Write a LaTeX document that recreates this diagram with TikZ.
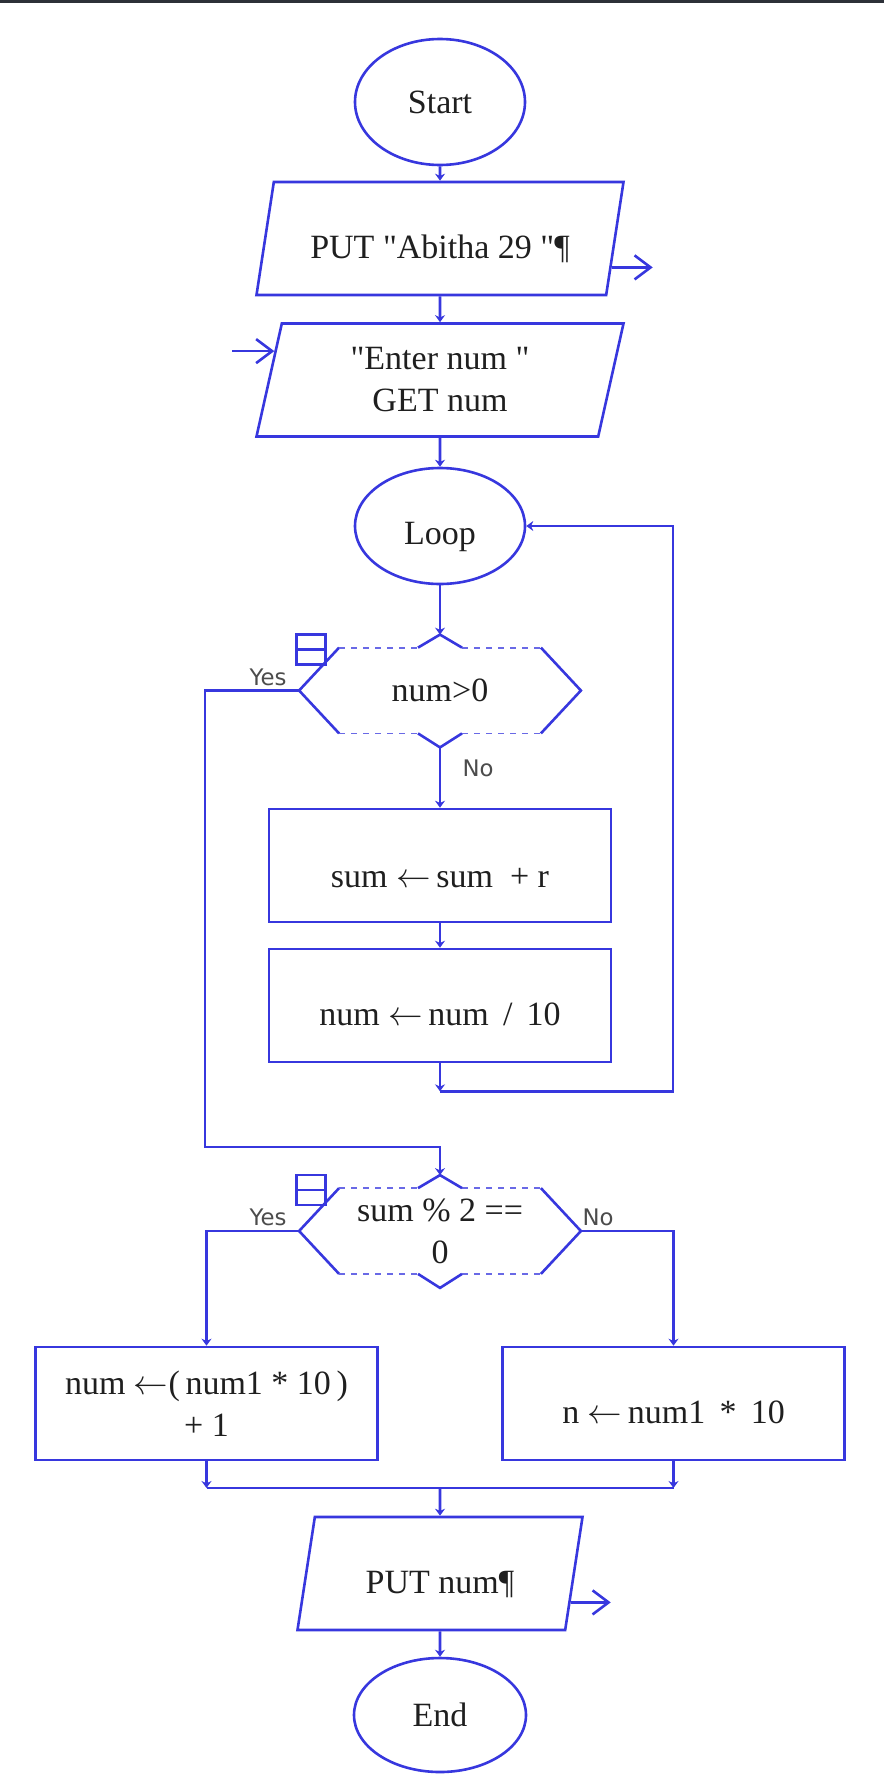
\documentclass[tikz,border=0pt]{standalone}
\usepackage{fontspec}
\newfontfamily\flowfont{Liberation Serif}
\newfontfamily\labelfont{DejaVu Sans}
\usepackage{tikz}
\usetikzlibrary{arrows.meta,positioning,shapes.geometric,calc}
\definecolor{flowblue}{RGB}{55,55,222}
\definecolor{topbar}{RGB}{45,49,56}
\tikzset{
>={Stealth[length=3.5pt,width=5pt]}, % small heads on the flow lines
node distance=70pt, % centre to centre, changed per node below
every node/.style={font=\flowfont\fontsize{17}{21}\selectfont, text=black!88},
terminal/.style={ellipse, draw=flowblue, line width=1.3pt, minimum width=85pt, minimum height=63pt, inner sep=0pt},
io/.style={trapezium, trapezium left angle=72, trapezium right angle=108, trapezium stretches body, draw=flowblue, line width=1.3pt, minimum width=183.5pt, minimum height=56.5pt, align=center},
process/.style={rectangle, draw=flowblue, line width=1.3pt, minimum width=171pt, minimum height=56.5pt, align=center},
decision/.style={rectangle, minimum width=100.5pt, minimum height=42.5pt, inner sep=0pt, align=center},
low text/.style={text height=#1, text depth=0pt}, % sets one line of text a little low
low text/.default=20pt,
branch/.style={font=\labelfont\fontsize{11.4}{13}\selectfont, text=black!70, inner sep=0pt},
wire/.style={draw=flowblue, line width=1.3pt},
dashline/.style={draw=flowblue!75, line width=0.9pt, dash pattern=on 3pt off 3pt},
side arrow/.style={wire, -{Straight Barb[length=8pt,width=12pt]}},
}
% hexagon of a loop test, drawn round a decision node
\newcommand{\loopdec}[1]{%
  \draw[wire] (#1.north west) -- ($(#1.west)+(-20pt,0)$) coordinate (#1-yes) -- (#1.south west);
  \draw[wire] (#1.north east) -- ($(#1.east)+(20pt,0)$) coordinate (#1-no) -- (#1.south east);
  \draw[dashline] (#1.north west) -- ($(#1.north)+(-11pt,0)$);
  \draw[dashline] ($(#1.north)+(11pt,0)$) -- (#1.north east);
  \draw[dashline] (#1.south west) -- ($(#1.south)+(-11pt,0)$);
  \draw[dashline] ($(#1.south)+(11pt,0)$) -- (#1.south east);
  \draw[wire] ($(#1.north)+(-11pt,0)$) -- ($(#1.north)+(0,6.5pt)$) coordinate (#1-in) -- ($(#1.north)+(11pt,0)$);
  \draw[wire] ($(#1.south)+(-11pt,0)$) -- ($(#1.south)+(0,-7pt)$) coordinate (#1-out) -- ($(#1.south)+(11pt,0)$);
  \draw[wire] ($(#1)+(-71.75pt,13pt)$) rectangle ($(#1)+(-57.25pt,28pt)$);
  \draw[wire] ($(#1)+(-71.75pt,20.5pt)$) -- ($(#1)+(-57.25pt,20.5pt)$);
}

\begin{document}
\begin{tikzpicture}
	\useasboundingbox (0,0) rectangle (442pt,-894pt);
	\fill[topbar] (0,0) rectangle (442pt,-1.5pt);

	\node[terminal] (start) at (220pt,-51pt) {Start};
	\node[io, low text, node distance=68.25pt, below of=start] (put1) {PUT "Abitha 29 "¶};
	\node[io, node distance=70.75pt, below of=put1] (get) {"Enter num "\\GET num};
	\node[terminal, low text=18pt, minimum height=58pt, node distance=73pt, below of=get] (loop) {Loop};
	\node[decision, node distance=82.25pt, below of=loop] (dec1) {num>0};
	\node[process, low text=22pt, node distance=87.5pt, below of=dec1] (sum) {sum $\leftarrow$\,sum \ + r};
	\node[process, low text, node distance=70pt, below of=sum] (num) {num $\leftarrow$\,num \,/\, 10};
	\node[decision, node distance=112.75pt, below of=num] (dec2) {sum \% 2 ==\\0};
	\node[process, node distance=86.25pt, below of=dec2, xshift=-116.75pt] (left) {num $\leftarrow$(\,num1 * 10\,)\\+ 1};
	\node[process, low text, node distance=86.25pt, below of=dec2, xshift=116.75pt] (right) {n $\leftarrow$\,num1 \,*\, 10};
	\node[io, low text, minimum width=142.5pt, node distance=171.25pt, below of=dec2] (put2) {PUT num¶};
	\node[terminal, minimum width=86pt, minimum height=57pt, node distance=70.75pt, below of=put2] (end) {End};

	\loopdec{dec1}
	\loopdec{dec2}

	\node[branch] (yes1) at ($(dec1)+(-86pt,6.5pt)$) {Yes};
	\node[branch] (no1) at ($(dec1)+(19pt,-39pt)$) {No};
	\node[branch] (yes2) at ($(dec2)+(-86pt,7pt)$) {Yes};
	\node[branch] (no2) at ($(dec2)+(79pt,7pt)$) {No};

	\coordinate (back1) at ($(num.south)+(0,-14pt)$);
	\coordinate (back2) at ($(back1)+(116.5pt,0)$);
	\coordinate (yesturn) at ($(dec2-in)+(0,14pt)$);
	\coordinate (yesrail) at ($(yesturn)+(-117.5pt,0)$);
	\coordinate (join) at ($(dec2)+(0,-128.5pt)$);
	\coordinate (put1out) at ($(put1.bottom right corner)!0.25!(put1.top right corner)$);
	\coordinate (put1tip) at ($(put1out)+(20.5pt,0)$);
	\coordinate (getin) at ($(get.bottom left corner)!0.75!(get.top left corner)$);
	\coordinate (gettail) at ($(getin)+(-21pt,0)$);
	\coordinate (put2out) at ($(put2.bottom right corner)!0.25!(put2.top right corner)$);
	\coordinate (put2tip) at ($(put2out)+(20pt,0)$);

	\draw[wire,->] (start) -- (put1);
	\draw[wire,->] (put1) -- (get);
	\draw[wire,->] (get) -- (loop);
	\draw[wire,->] (loop) -- (dec1-in);
	\draw[wire,->] (dec1-out) -- (sum);
	\draw[wire,->] (sum) -- (num);
	\draw[wire,->] (num) -- (back1);
	\draw[wire,->] (back1) -- (back2) |- (loop.east);
	\draw[wire,->] (dec1-yes) -| (yesrail) -- (yesturn) -- (dec2-in);
	\draw[wire,->] (dec2-yes) -| (left);
	\draw[wire,->] (dec2-no) -| (right);
	\draw[wire,->] (left) -- (left |- join);
	\draw[wire,->] (right) -- (right |- join);
	\draw[wire] (left |- join) -- (right |- join);
	\draw[wire,->] (join) -- (put2);
	\draw[wire,->] (put2) -- (end);

	\draw[side arrow] (put1out) -- (put1tip);
	\draw[side arrow] (gettail) -- (getin);
	\draw[side arrow] (put2out) -- (put2tip);
\end{tikzpicture}
\end{document}
